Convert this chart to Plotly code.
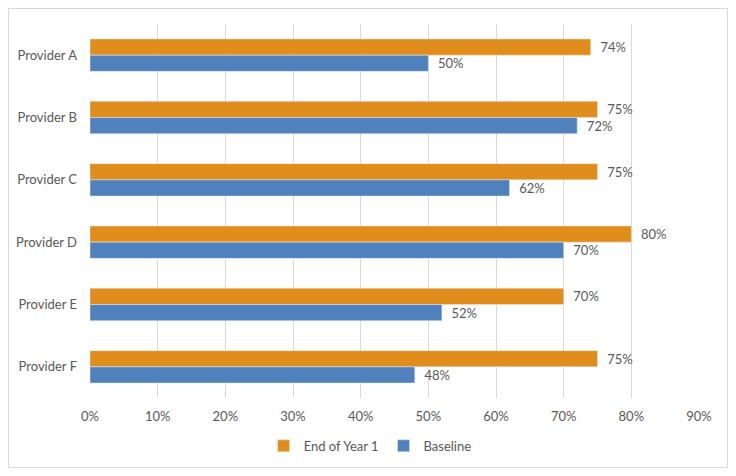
import plotly.graph_objects as go

# Datos
providers = ["Provider A", "Provider B", "Provider C", "Provider D", "Provider E", "Provider F"]
end_year1 = [0.74, 0.75, 0.75, 0.80, 0.70, 0.75]
baseline = [0.50, 0.72, 0.62, 0.70, 0.52, 0.48]

colors = {
    'orange': '#E08D1C',
    'blue': '#4F81BD',
    'text': '#595959',
    'grid': '#D9D9D9'
}

label_tpl = "\u00a0\u00a0%{x:.0%}"

fig = go.Figure()
fig.add_trace(go.Bar(
    y=providers, x=end_year1, name="End of Year 1", orientation='h',
    marker_color=colors['orange'], texttemplate=label_tpl, textposition="outside",
    textfont=dict(color=colors['text'], size=13), cliponaxis=False
))
fig.add_trace(go.Bar(
    y=providers, x=baseline, name="Baseline", orientation='h',
    marker_color=colors['blue'], texttemplate=label_tpl, textposition="outside",
    textfont=dict(color=colors['text'], size=13), cliponaxis=False
))

# La pagina tiene 8px de margen en el body, por eso 720x460
fig.update_layout(
    width=720, height=460,
    barmode='group', bargap=0.48, bargroupgap=0,
    plot_bgcolor='white', paper_bgcolor='white',
    font=dict(family="Lato, Open Sans, sans-serif", color=colors['text'], size=13),
    margin=dict(l=82, r=29, t=16, b=70, autoexpand=False),
    showlegend=True,
    legend=dict(orientation='h', x=0.46, xanchor='center', y=-0.128, yanchor='middle',
                font=dict(size=13), traceorder='normal', itemwidth=30),
    shapes=[dict(type='rect', xref='paper', yref='paper', x0=-0.1338, x1=1.0468,
                 y0=-0.1858, y1=1.0414, line=dict(color='#D9D9D9', width=1), layer='below')]
)
fig.update_xaxes(range=[0, 0.9], dtick=0.1, tickformat='.0%', gridcolor=colors['grid'],
                 zeroline=False, showline=False, ticks='', ticklabelstandoff=9,
                 automargin=False)
fig.update_yaxes(autorange='reversed', showgrid=False, showline=False, ticks='',
                 ticklabelstandoff=12, automargin=False)

fig.write_html("out.html")
